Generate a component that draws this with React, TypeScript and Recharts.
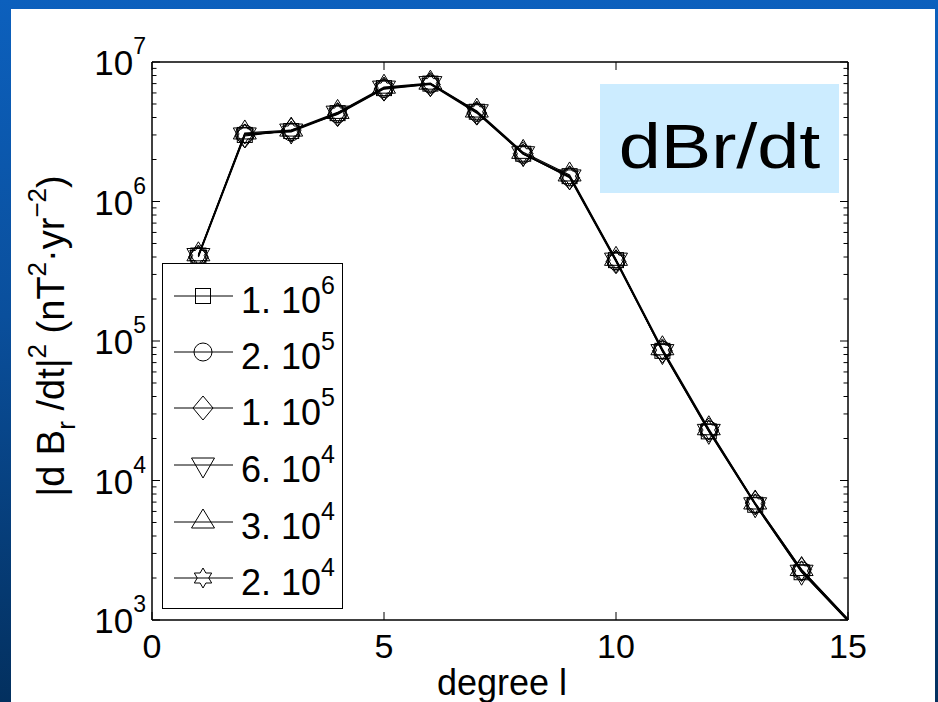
import React from "react";
import { LineChart, Line, XAxis, YAxis, Legend } from "recharts";

// spherical harmonic degree l
const degrees = [1, 2, 3, 4, 5, 6, 7, 8, 9, 10, 11, 12, 13, 14, 15];

// |dBr/dt|^2 spectra for the six runs
const s1e6 = [4.1e5, 3.0e6, 3.2e6, 4.3e6, 6.5e6, 7.0e6, 4.4e6, 2.2e6, 1.52e6, 3.8e5, 8.5e4, 2.25e4, 6.7e3, 2.2e3, 980];
const s2e5 = [4.05e5, 3.05e6, 3.15e6, 4.25e6, 6.45e6, 6.95e6, 4.35e6, 2.18e6, 1.5e6, 3.75e5, 8.6e4, 2.3e4, 6.8e3, 2.25e3, 1000];
const s1e5 = [4.0e5, 2.95e6, 3.25e6, 4.2e6, 6.4e6, 6.9e6, 4.3e6, 2.2e6, 1.48e6, 3.7e5, 8.5e4, 2.3e4, 6.9e3, 2.3e3, 1010];
const s6e4 = [4.1e5, 3.0e6, 3.2e6, 4.3e6, 6.5e6, 7.0e6, 4.4e6, 2.2e6, 1.5e6, 3.8e5, 8.4e4, 2.25e4, 6.7e3, 2.2e3, 990];
const s3e4 = [4.15e5, 3.1e6, 3.25e6, 4.35e6, 6.6e6, 7.05e6, 4.45e6, 2.25e6, 1.55e6, 3.85e5, 8.8e4, 2.35e4, 6.9e3, 2.3e3, 1020];
const s2e4 = [4.1e5, 3.05e6, 3.2e6, 4.3e6, 6.5e6, 7.0e6, 4.4e6, 2.2e6, 1.52e6, 3.8e5, 8.6e4, 2.3e4, 6.8e3, 2.25e3, 1000];

const seriesKeys = ["s1e6", "s2e5", "s1e5", "s6e4", "s3e4", "s2e4"];
const seriesMant = ["1", "2", "1", "6", "3", "2"];
const seriesExp = ["6", "5", "5", "4", "4", "4"];
const seriesMarker = ["square", "circle", "diamond", "triDown", "triUp", "hexagram"];

const xTicks = [0, 5, 10, 15];
const decades = [1e3, 1e4, 1e5, 1e6];
const yTicks = [...decades.flatMap((d) => [1, 2, 3, 4, 5, 6, 7, 8, 9].map((k) => k * d)), 1e7];

const data = degrees.map((l, i) => ({
  l,
  s1e6: s1e6[i],
  s2e5: s2e5[i],
  s1e5: s1e5[i],
  s6e4: s6e4[i],
  s3e4: s3e4[i],
  s2e4: s2e4[i],
}));

const FONT = "'Liberation Sans', Arial, Helvetica, sans-serif";

function hexagramPoints(cx: number, cy: number, R: number) {
  const r = R / Math.sqrt(3);
  const pts: string[] = [];
  for (let i = 0; i < 12; i++) {
    const a = -Math.PI / 2 + (i * Math.PI) / 6;
    const rr = i % 2 === 0 ? R : r;
    pts.push(`${cx + rr * Math.cos(a)},${cy + rr * Math.sin(a)}`);
  }
  return pts.join(" ");
}

function Marker({ kind, cx, cy }: { kind: string; cx: number; cy: number }) {
  const p = { fill: "none", stroke: "#000", strokeWidth: 1 };
  switch (kind) {
    case "square":
      return <rect x={cx - 7.5} y={cy - 7.5} width={15} height={15} {...p} />;
    case "circle":
      return <circle cx={cx} cy={cy} r={9} {...p} />;
    case "diamond":
      return <polygon points={`${cx},${cy - 12} ${cx + 10},${cy} ${cx},${cy + 12} ${cx - 10},${cy}`} {...p} />;
    case "triDown":
      return <polygon points={`${cx - 11.5},${cy - 7} ${cx + 11.5},${cy - 7} ${cx},${cy + 13}`} {...p} />;
    case "triUp":
      return <polygon points={`${cx - 11.5},${cy + 6} ${cx + 11.5},${cy + 6} ${cx},${cy - 13}`} {...p} />;
    default:
      return <polygon points={hexagramPoints(cx, cy, 10)} {...p} />;
  }
}

const makeDot = (kind: string) => (props: any) => {
  const { cx, cy, payload, index } = props;
  if (cx == null || cy == null || payload.l === 15) return <g key={index} />;
  return (
    <g key={index}>
      <Marker kind={kind} cx={cx} cy={cy} />
    </g>
  );
};

const isMajor = (v: number) => {
  const e = Math.round(Math.log10(v));
  return Math.abs(v - Math.pow(10, e)) < 1e-6 * v;
};

const LeftTick = (props: any) => {
  const { x, y, payload } = props;
  const v = payload.value;
  const major = isMajor(v);
  return (
    <g>
      <line x1={x} x2={x + (major ? 8 : 4.5)} y1={y} y2={y} stroke="#000" strokeWidth={1} />
      {major && (
        <text x={x - 6} y={y + 13} textAnchor="end" fontSize={35} fontFamily={FONT} fill="#000">
          10
          <tspan dy={-21} fontSize={23}>
            {Math.round(Math.log10(v))}
          </tspan>
        </text>
      )}
    </g>
  );
};

const RightTick = (props: any) => {
  const { x, y, payload } = props;
  const major = isMajor(payload.value);
  return <line x1={x} x2={x - (major ? 8 : 4.5)} y1={y} y2={y} stroke="#000" strokeWidth={1} />;
};

const BottomTick = (props: any) => {
  const { x, y, payload } = props;
  return (
    <g>
      <line x1={x} x2={x} y1={y} y2={y - 8} stroke="#000" strokeWidth={1} />
      <text x={x} y={y + 38} textAnchor="middle" fontSize={34} fontFamily={FONT} fill="#000">
        {payload.value}
      </text>
    </g>
  );
};

const TopTick = (props: any) => {
  const { x, y } = props;
  return <line x1={x} x2={x} y1={y} y2={y + 8} stroke="#000" strokeWidth={1} />;
};

const rowY = [32, 88, 144, 201, 258, 314];

const renderLegend = () => (
  <div style={{ width: 181, height: 346, border: "1.5px solid #000", background: "#fff", boxSizing: "border-box" }}>
    <svg width={178} height={343} style={{ display: "block" }}>
      {seriesKeys.map((key, k) => {
        const cy = rowY[k];
        return (
          <g key={key}>
            <line x1={11} x2={70} y1={cy} y2={cy} stroke="#000" strokeWidth={1} />
            <Marker kind={seriesMarker[k]} cx={40} cy={cy} />
            <text x={78} y={cy + 17} fontSize={36} fontFamily={FONT} fill="#000">
              {seriesMant[k]}. 10
              <tspan dy={-19} fontSize={25}>
                {seriesExp[k]}
              </tspan>
            </text>
          </g>
        );
      })}
    </svg>
  </div>
);

export default function App() {
  return (
    <div
      style={{
        position: "absolute",
        left: 0,
        top: 0,
        width: 938,
        height: 702,
        overflow: "hidden",
        background: "linear-gradient(180deg, #0c60bd 0%, #0a4f9c 45%, #03305f 100%)",
      }}
    >
      <div style={{ position: "absolute", left: 11, top: 9, width: 924, height: 693, background: "#fff" }} />
      <div style={{ position: "absolute", left: 0, top: 0 }}>
        <LineChart width={938} height={702} data={data} margin={{ top: 61, right: 89, bottom: 81, left: 151 }}>
          <XAxis
            xAxisId="b"
            dataKey="l"
            type="number"
            domain={[0, 15]}
            ticks={xTicks}
            interval={0}
            height={1}
            tickSize={0}
            tickMargin={0}
            tickLine={false}
            tick={<BottomTick />}
            axisLine={{ stroke: "#000", strokeWidth: 1.5 }}
          />
          <XAxis
            xAxisId="t"
            orientation="top"
            dataKey="l"
            type="number"
            domain={[0, 15]}
            ticks={xTicks}
            interval={0}
            height={1}
            tickSize={0}
            tickMargin={0}
            tickLine={false}
            tick={<TopTick />}
            axisLine={{ stroke: "#000", strokeWidth: 1.5 }}
          />
          <YAxis
            yAxisId="l"
            scale="log"
            domain={[1e3, 1e7]}
            allowDataOverflow
            ticks={yTicks}
            interval={0}
            width={1}
            tickSize={0}
            tickMargin={0}
            tickLine={false}
            tick={<LeftTick />}
            axisLine={{ stroke: "#000", strokeWidth: 1.5 }}
          />
          <YAxis
            yAxisId="r"
            orientation="right"
            scale="log"
            domain={[1e3, 1e7]}
            allowDataOverflow
            ticks={yTicks}
            interval={0}
            width={1}
            tickSize={0}
            tickMargin={0}
            tickLine={false}
            tick={<RightTick />}
            axisLine={{ stroke: "#000", strokeWidth: 1.5 }}
          />
          {seriesKeys.map((k, i) => (
            <Line
              key={k}
              xAxisId="b"
              yAxisId="l"
              type="linear"
              dataKey={k}
              name={`${seriesMant[i]}. 10^${seriesExp[i]}`}
              stroke="#000"
              strokeWidth={1.2}
              dot={makeDot(seriesMarker[i])}
              activeDot={false}
              isAnimationActive={false}
            />
          ))}
          <Legend
            layout="vertical"
            align="center"
            verticalAlign="middle"
            content={renderLegend}
            wrapperStyle={{ left: 162, top: 263, width: 181, height: 346 }}
          />
        </LineChart>
      </div>
      <svg width={938} height={702} style={{ position: "absolute", left: 0, top: 0, pointerEvents: "none" }}>
        <rect x={600} y={84} width={239} height={109} fill="#CCECFF" />
        <text transform="translate(719.5,168) scale(1.2,1)" textAnchor="middle" fontSize={63} fontFamily={FONT} fill="#000">
          dBr/dt
        </text>
        <text x={502} y={695} textAnchor="middle" fontSize={36} fontFamily={FONT} fill="#000">
          degree l
        </text>
        <text transform="translate(64,336) rotate(-90)" textAnchor="middle" fontSize={38} fontFamily={FONT} fill="#000">
          |d B
          <tspan fontSize={26} dy={11}>r</tspan>
          <tspan dy={-11}> /dt|</tspan>
          <tspan fontSize={26} dy={-18}>2</tspan>
          <tspan dy={18}> (nT</tspan>
          <tspan fontSize={26} dy={-18}>2</tspan>
          <tspan dy={18}>·yr</tspan>
          <tspan fontSize={26} dy={-18}>−2</tspan>
          <tspan dy={18}>)</tspan>
        </text>
      </svg>
    </div>
  );
}
